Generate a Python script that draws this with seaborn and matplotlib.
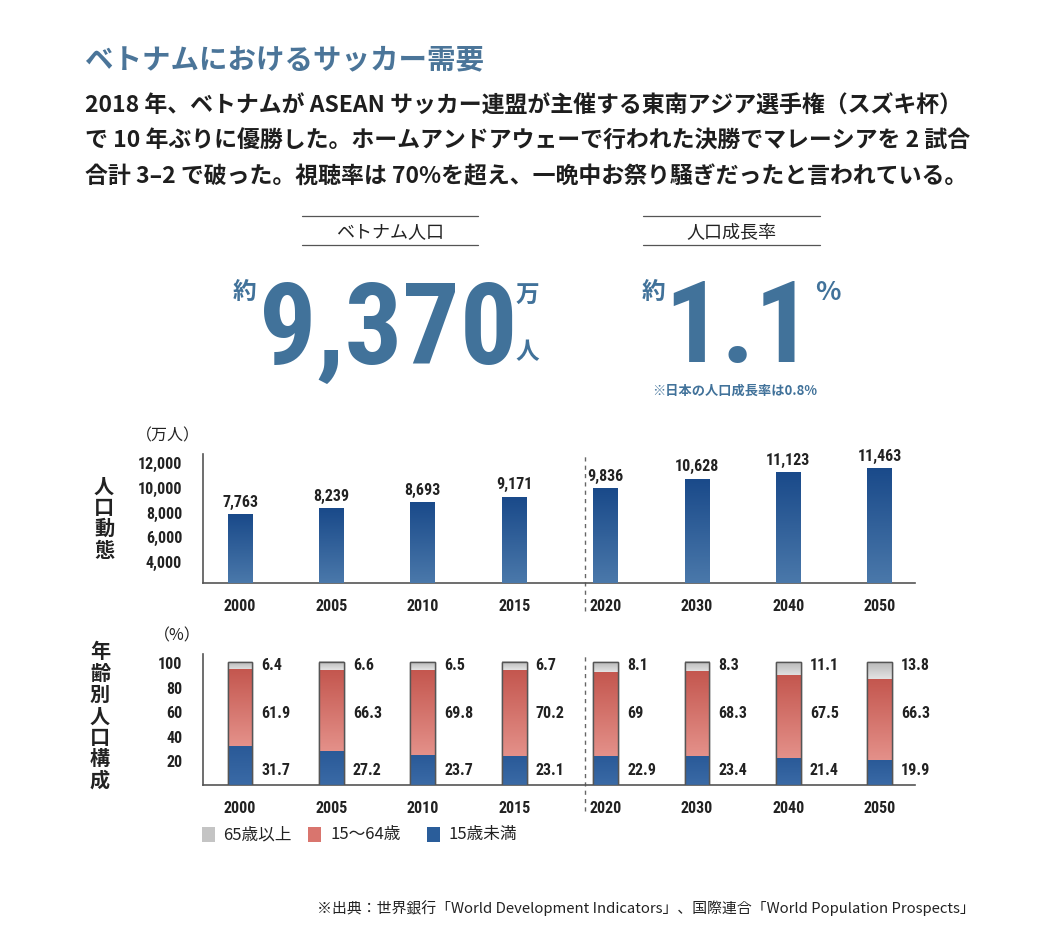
import numpy as np
import matplotlib
matplotlib.use("Agg")
import matplotlib.pyplot as plt
from matplotlib import font_manager as fm
from matplotlib.colors import LinearSegmentedColormap
import seaborn as sns

# data
years = ["2000", "2005", "2010", "2015", "2020", "2030", "2040", "2050"]
population = [7763, 8239, 8693, 9171, 9836, 10628, 11123, 11463]  # 万人
age_65_over = [6.4, 6.6, 6.5, 6.7, 8.1, 8.3, 11.1, 13.8]
age_15_64 = [61.9, 66.3, 69.8, 70.2, 69, 68.3, 67.5, 66.3]
age_under_15 = [31.7, 27.2, 23.7, 23.1, 22.9, 23.4, 21.4, 19.9]
pop_ticks = [4000, 6000, 8000, 10000, 12000]
pct_ticks = [20, 40, 60, 80, 100]
legend_labels = ["65歳以上", "15～64歳", "15歳未満"]

W, H = 1056, 928
BLUE_TXT = "#41729a"

sns.set_theme(style="white")
plt.rcParams["font.family"] = ["Noto Sans CJK JP", "DejaVu Sans"]

# pick a narrow face for the numbers
names = {f.name for f in fm.fontManager.ttflist}
NUM = dict(fontfamily="DejaVu Sans", fontstretch="condensed")
for n in ["Roboto Condensed", "Liberation Sans Narrow", "Open Sans Condensed"]:
    if n in names:
        NUM = dict(fontfamily=n, fontstretch="normal")
        break


def px(x, y):
    return x / W, 1 - y / H


def shade(ax, x0, x1, y0, y1, top, bottom, z):
    cmap = LinearSegmentedColormap.from_list("g", [bottom, top])
    grad = np.linspace(0, 1, 64).reshape(-1, 1)
    ax.imshow(grad, cmap=cmap, extent=[x0, x1, y0, y1], origin="lower",
              aspect="auto", zorder=z, interpolation="bilinear")


fig = plt.figure(figsize=(W / 100, H / 100), dpi=100)
fig.patch.set_facecolor("white")

# header texts
fig.text(*px(85, 60), "ベトナムにおけるサッカー需要", fontsize=20.5, color="#4b7599",
         fontweight="bold", va="center", ha="left")
body = [
    "2018 年、ベトナムが ASEAN サッカー連盟が主催する東南アジア選手権（スズキ杯）",
    "で 10 年ぶりに優勝した。ホームアンドアウェーで行われた決勝でマレーシアを 2 試合",
    "合計 3–2 で破った。視聴率は 70%を超え、一晩中お祭り騒ぎだったと言われている。",
]
for i, line in enumerate(body):
    fig.text(*px(85, 106 + 35.5 * i), line, fontsize=16.5, color="#1e1e1e",
             fontweight="bold", va="center", ha="left")

# key figures
for cx, x0, x1, label in [(390, 302, 478, "ベトナム人口"), (731, 643, 820, "人口成長率")]:
    fig.add_artist(plt.Line2D([x0 / W, x1 / W], [1 - 217 / H] * 2, color="#555", lw=0.9))
    fig.add_artist(plt.Line2D([x0 / W, x1 / W], [1 - 246 / H] * 2, color="#555", lw=0.9))
    fig.text(*px(cx, 232), label, fontsize=13, color="#222", ha="center", va="center")

fig.text(*px(388, 364), "9,370", fontsize=82, color=BLUE_TXT, fontweight="bold",
         ha="center", va="baseline", **NUM)
fig.text(*px(244, 292), "約", fontsize=17, color=BLUE_TXT, fontweight="bold", ha="center", va="center")
fig.text(*px(527, 296), "万", fontsize=17, color=BLUE_TXT, fontweight="bold", ha="center", va="center")
fig.text(*px(527, 352), "人", fontsize=17, color=BLUE_TXT, fontweight="bold", ha="center", va="center")

fig.text(*px(738, 362), "1.1", fontsize=82, color=BLUE_TXT, fontweight="bold",
         ha="center", va="baseline", **NUM)
fig.text(*px(653, 292), "約", fontsize=17, color=BLUE_TXT, fontweight="bold", ha="center", va="center")
fig.text(*px(828, 292), "%", fontsize=19, color=BLUE_TXT, fontweight="bold", ha="center", va="center")
fig.text(*px(735, 391), "※日本の人口成長率は0.8%", fontsize=9.5, color=BLUE_TXT,
         fontweight="bold", ha="center", va="center")

# population chart
ax1 = fig.add_axes([203 / W, 1 - 584 / H, 712 / W, 129 / H])
sns.barplot(x=years, y=population, ax=ax1, color="#2a5d9a", width=0.27, zorder=2)
for p in ax1.patches:
    x0, y0 = p.get_x(), p.get_y()
    shade(ax1, x0, x0 + p.get_width(), 2220, y0 + p.get_height(), "#1a4a8a", "#4a78aa", 3)
for i, v in enumerate(population):
    ax1.annotate(f"{v:,}", (i, v), xytext=(0, 4), textcoords="offset points",
                 ha="center", va="bottom", fontsize=11.5, fontweight="bold", color="#222", **NUM)
ax1.set_xlim(-0.405, 7.385)
ax1.set_ylim(2220, 12650)
ax1.set_yticks(pop_ticks)
ax1.set_yticklabels([f"{t:,}" for t in pop_ticks])
ax1.axvline(3.775, ymin=-0.22, ymax=1, clip_on=False, color="#666", lw=1, ls=(0, (3, 3)))

# age structure chart
ax2 = fig.add_axes([203 / W, 1 - 786 / H, 712 / W, 131 / H])
cum_mid = [a + b for a, b in zip(age_under_15, age_15_64)]
cum_all = [a + b for a, b in zip(cum_mid, age_65_over)]
sns.barplot(x=years, y=cum_all, ax=ax2, color="#c8c8c8", width=0.27, zorder=2,
            edgecolor="#555", linewidth=1.0)
n = len(years)
for i, p in enumerate(ax2.patches[:n]):
    x0 = p.get_x()
    x1 = x0 + p.get_width()
    shade(ax2, x0, x1, cum_mid[i], cum_all[i], "#b9b9b9", "#e3e3e3", 3)
    shade(ax2, x0, x1, age_under_15[i], cum_mid[i], "#c4574f", "#e4918a", 3)
    shade(ax2, x0, x1, 0, age_under_15[i], "#2a5a98", "#3a6aa6", 3)
    ax2.add_patch(plt.Rectangle((x0, 0), x1 - x0, cum_all[i], fill=False,
                                edgecolor="#555", lw=1.0, zorder=4))
for i in range(n):
    for yv, val in [(98, age_65_over[i]), (59, age_15_64[i]), (13, age_under_15[i])]:
        ax2.text(i + 0.235, yv, f"{val:g}", ha="left", va="center", fontsize=11.5,
                 fontweight="bold", color="#222", **NUM)
ax2.set_xlim(-0.405, 7.385)
ax2.set_ylim(0, 106.5)
ax2.set_yticks(pct_ticks)
ax2.axvline(3.775, ymin=-0.2, ymax=1, clip_on=False, color="#666", lw=1, ls=(0, (3, 3)))

for ax in (ax1, ax2):
    sns.despine(ax=ax)
    ax.set_xlabel("")
    ax.set_ylabel("")
    ax.set_facecolor("none")
    for s in ("left", "bottom"):
        ax.spines[s].set_color("#555")
        ax.spines[s].set_linewidth(1.2)
    ax.tick_params(axis="x", length=0, pad=11)
    ax.tick_params(axis="y", length=0, pad=15)
    for lab in ax.get_xticklabels() + ax.get_yticklabels():
        lab.set_fontsize(11.5)
        lab.set_fontweight("bold")
        lab.set_color("#222")
        lab.set_fontfamily(NUM["fontfamily"])
        lab.set_fontstretch(NUM["fontstretch"])

fig.text(*px(168, 436), "（万人）", fontsize=11.5, color="#222", ha="center", va="center")
fig.text(*px(177, 636), "（%）", fontsize=11.5, color="#222", ha="center", va="center")
fig.text(*px(104, 518), "\n".join("人口動態"), fontsize=14.5, fontweight="bold",
         color="#222", ha="center", va="center", linespacing=1.02)
fig.text(*px(100, 716), "\n".join("年齢別人口構成"), fontsize=14.5, fontweight="bold",
         color="#222", ha="center", va="center", linespacing=1.02)

# legend, laid out by hand
for sx, tx, col, lab in zip([202, 308, 427], [223, 330, 449],
                            ["#c4c4c4", "#d9756e", "#2a5d9a"], legend_labels):
    fig.add_artist(plt.Rectangle(px(sx, 843), 13 / W, 15 / H, facecolor=col,
                                 edgecolor="none", transform=fig.transFigure))
    fig.text(*px(tx, 835), lab, fontsize=12, color="#222", ha="left", va="center")

fig.text(*px(975, 908), "※出典：世界銀行「World Development Indicators」、国際連合「World Population Prospects」",
         fontsize=10.7, color="#222", ha="right", va="center")

fig.savefig("out.png", dpi=100, facecolor="white")
